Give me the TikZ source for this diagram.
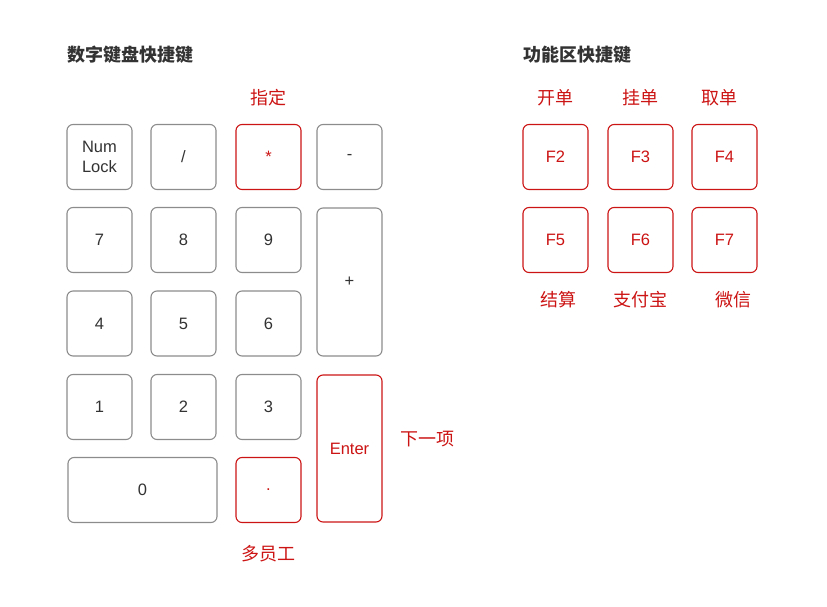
\documentclass[tikz,border=0pt]{standalone}
\usepackage{fontspec}
\setmainfont{Liberation Sans}
\newfontfamily\cjk{Noto Sans CJK SC}
\usetikzlibrary{positioning}
\definecolor{keygray}{RGB}{140,140,140}
\definecolor{keyred}{RGB}{204,20,20}
\definecolor{textdark}{RGB}{51,51,51}

\tikzset{
    key/.style={draw=keygray, line width=1.1pt, rounded corners=6pt, fill=white,
        minimum width=65pt, minimum height=65pt, inner sep=0pt,
        text=textdark, font=\fontsize{16.5}{19.5}\selectfont, align=center},
    hotkey/.style={key, draw=keyred, text=keyred},
    keylabel/.style={text=keyred, font=\fontsize{18}{20}\selectfont\cjk},
    heading/.style={anchor=west, text=textdark, font=\fontsize{18}{20}\selectfont\cjk\bfseries}
}

\begin{document}
\begin{tikzpicture}[x=1pt, y=-1pt]
        \useasboundingbox (0,0) rectangle (827,607);
        % titles
        \node[heading] (numtitle) at (64,55) {数字键盘快捷键};
        \node[heading] (fntitle) at (520,55) {功能区快捷键};
        % numeric pad
        \node[key] (numlock) at (99.5,157) {Num\\Lock};
        \node[key] (div) at (183.5,157) {/};
        \node[hotkey] (mul) at (268.5,157) {*};
        \node[key] (minus) at (349.5,157) {-};
        \foreach \name/\x/\y/\lbl in {
            k7/99.5/240/7, k8/183.5/240/8, k9/268.5/240/9,
            k4/99.5/323.5/4, k5/183.5/323.5/5, k6/268.5/323.5/6,
            k1/99.5/407/1, k2/183.5/407/2, k3/268.5/407/3}
        {
            \node[key] (\name) at (\x,\y) {\lbl};
        }
        \node[key, minimum height=148pt] (plus) at (349.5,282) {+};
        \node[key, minimum width=149pt] (k0) at (142.5,490) {0};
        \node[hotkey] (dot) at (268.5,490) {.};
        \node[hotkey, minimum height=147pt] (enter) at (349.5,448.5) {Enter};
        \node[keylabel] (lblmul) at (268,98) {指定};
        \node[keylabel] (lbldot) at (268,554) {多员工};
        \node[keylabel] (lblenter) at (427,439) {下一项};
        % function keys
        \foreach \name/\x/\y/\lbl in {
            f2/555.5/157/F2, f3/640.5/157/F3, f4/724.5/157/F4,
            f5/555.5/240/F5, f6/640.5/240/F6, f7/724.5/240/F7}
        {
            \node[hotkey] (\name) at (\x,\y) {\lbl};
        }
        \foreach \x/\y/\lbl in {
            555/98/开单, 640/98/挂单, 719/98/取单,
            558/300/结算, 640/300/支付宝, 733/300/微信}
        {
            \node[keylabel] at (\x,\y) {\lbl};
        }
    \end{tikzpicture}
\end{document}
